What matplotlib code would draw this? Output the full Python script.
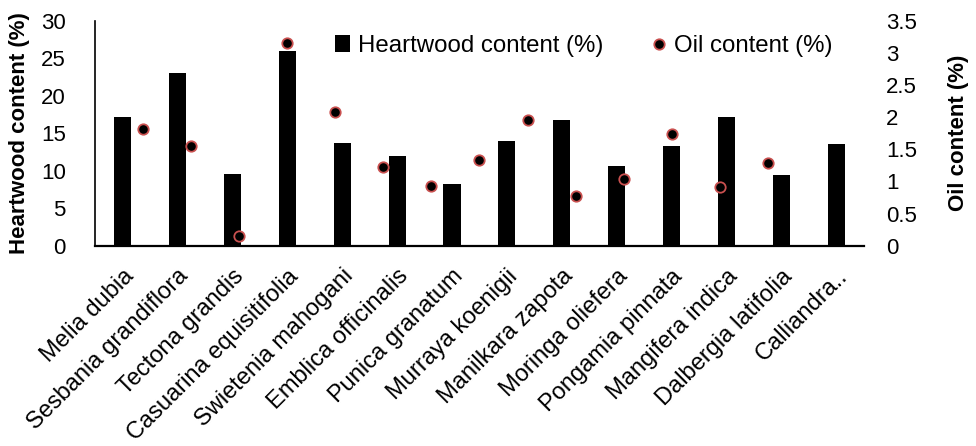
import numpy as np
import matplotlib.pyplot as plt
from matplotlib.patches import Patch
from matplotlib.lines import Line2D
from matplotlib.transforms import ScaledTranslation

plt.rcParams['font.family'] = ['Liberation Sans', 'DejaVu Sans']
plt.rcParams['font.size'] = 16

species = ['Melia dubia', 'Sesbania grandiflora', 'Tectona grandis',
           'Casuarina equisitifolia', 'Swietenia mahogani', 'Emblica officinalis',
           'Punica granatum', 'Murraya koenigii', 'Manilkara zapota',
           'Moringa oliefera', 'Pongamia pinnata', 'Mangifera indica',
           'Dalbergia latifolia', 'Calliandra..']
heartwood = [17.2, 23.0, 9.5, 26.0, 13.7, 11.9, 8.2, 13.9, 16.7, 10.6, 13.3, 17.1, 9.4, 13.6]
# oil points sit on their own 0-16 scatter axis, at x = 1..14
oil_x = list(range(1, 15))
oil = [1.81, 1.55, 0.15, 3.15, 2.08, 1.23, 0.93, 1.33, 1.96, 0.78, 1.04, 1.74, 0.92, 1.29]

fig = plt.figure(figsize=(9.76, 4.46), dpi=100)
ax = fig.add_axes([0.0973, 0.449, 0.7879, 0.505])

x = np.arange(len(species))
ax.bar(x, heartwood, width=0.31, color='black', zorder=2)
ax.set_xlim(-0.5, len(species) - 0.5)
ax.set_ylim(0, 30)
ax.set_yticks(range(0, 31, 5))
ax.set_xticks(x)
ax.set_xticklabels(species, rotation=45, ha='right', rotation_mode='anchor', fontsize=17)
shift = ScaledTranslation(-4 / 72, 0, fig.dpi_scale_trans)
for lbl in ax.get_xticklabels():
    lbl.set_transform(lbl.get_transform() + shift)
ax.tick_params(axis='both', length=0)
ax.tick_params(axis='y', pad=21)
ax.tick_params(axis='x', pad=14)
ax.spines['top'].set_visible(False)
ax.spines['right'].set_visible(False)
ax.spines['left'].set_linewidth(1.2)
ax.spines['bottom'].set_linewidth(1.6)
ax.set_ylabel('Heartwood content (%)', fontweight='bold', labelpad=8)

ax2 = ax.twinx()
ax2.set_ylim(0, 3.5)
ax2.set_yticks(np.arange(0, 3.51, 0.5))
ax2.set_yticklabels(['0', '0.5', '1', '1.5', '2', '2.5', '3', '3.5'])
ax2.tick_params(axis='y', length=0, pad=16)
for s in ax2.spines.values():
    s.set_visible(False)
ax2.set_ylabel('Oil content (%)', fontweight='bold', labelpad=22)

ax3 = ax2.twiny()
ax3.set_xlim(0, 16)
ax3.xaxis.set_visible(False)
for s in ax3.spines.values():
    s.set_visible(False)
ax3.plot(oil_x, oil, linestyle='none', marker='o', markersize=7.5,
         markerfacecolor='black', markeredgecolor='#c9504f', markeredgewidth=1.3)

handles = [Patch(facecolor='black', edgecolor='none', label='Heartwood content (%)'),
           Line2D([], [], linestyle='none', marker='o', markersize=7.5,
                  markerfacecolor='black', markeredgecolor='#c9504f',
                  markeredgewidth=1.3, label='Oil content (%)')]
fig.legend(handles=handles, loc='center', bbox_to_anchor=(0.598, 0.897), ncol=2,
           frameon=False, fontsize=17.3, handlelength=0.65, handleheight=0.65,
           handletextpad=0.3, columnspacing=2.0, borderaxespad=0)

fig.savefig('out.png', dpi=100)
